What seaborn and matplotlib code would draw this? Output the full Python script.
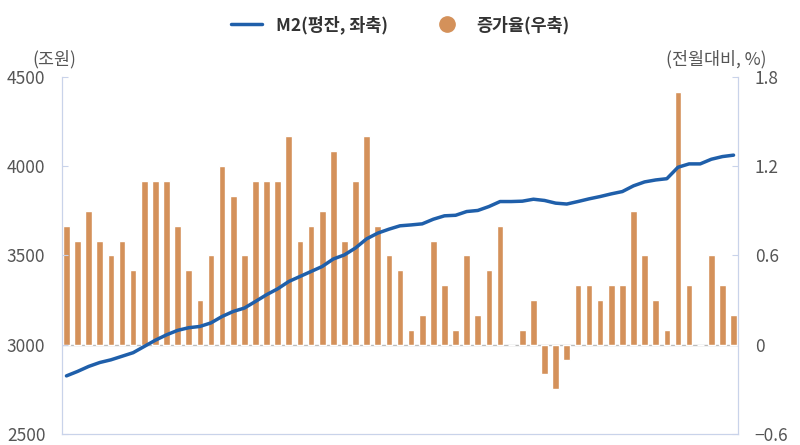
import numpy as np
import pandas as pd
import seaborn as sns
import matplotlib.pyplot as plt
from matplotlib.lines import Line2D

# M2 level (trillion won, left axis) and monthly growth rate (% MoM, right axis)
m2 = [2825, 2850, 2878, 2900, 2915, 2935, 2955, 2990, 3025, 3055,
      3080, 3095, 3102, 3122, 3158, 3186, 3205, 3242, 3280, 3313,
      3354, 3382, 3410, 3438, 3480, 3503, 3542, 3593, 3625, 3647,
      3666, 3671, 3677, 3703, 3722, 3725, 3746, 3752, 3774, 3802,
      3802, 3804, 3815, 3808, 3793, 3788, 3802, 3817, 3830, 3845,
      3858, 3890, 3912, 3923, 3930, 3994, 4013, 4013, 4039, 4054, 4062]
rate = [0.8, 0.7, 0.9, 0.7, 0.6, 0.7, 0.5, 1.1, 1.1, 1.1,
        0.8, 0.5, 0.3, 0.6, 1.2, 1.0, 0.6, 1.1, 1.1, 1.1,
        1.4, 0.7, 0.8, 0.9, 1.3, 0.7, 1.1, 1.4, 0.8, 0.6,
        0.5, 0.1, 0.2, 0.7, 0.4, 0.1, 0.6, 0.2, 0.5, 0.8,
        0.0, 0.1, 0.3, -0.2, -0.3, -0.1, 0.4, 0.4, 0.3, 0.4,
        0.4, 0.9, 0.6, 0.3, 0.1, 1.7, 0.4, 0.0, 0.6, 0.4, 0.2]
month = np.arange(len(m2))
df = pd.DataFrame({'month': month, 'm2': m2, 'rate': rate})

sns.set_style('white')
plt.rcParams['font.family'] = ['Noto Sans CJK KR', 'DejaVu Sans']

bar_color = '#D4915A'
line_color = '#1F5FAA'
spine_color = '#C9D3EA'
text_color = '#555555'

fig = plt.figure(figsize=(8, 4.45), dpi=100)
ax = fig.add_axes([0.0775, 0.025, 0.845, 0.802])
sns.barplot(data=df, x='month', y='rate', native_scale=True, color=bar_color,
            width=0.6, saturation=1, ax=ax)
ax.axhline(0, color='#BBBBBB', lw=1, zorder=0)
ax.set_ylim(-0.6, 1.8)
ax.set_yticks([-0.6, 0, 0.6, 1.2, 1.8])
ax.set_yticklabels(['−0.6', '0', '0.6', '1.2', '1.8'])
ax.set_xlim(-0.4, len(m2) - 0.6)
ax.set_xticks(np.arange(4.5, len(m2), 12))
ax.set_xticklabels([])
ax.set_xlabel('')
ax.set_ylabel('')

ax2 = ax.twinx()
sns.lineplot(data=df, x='month', y='m2', color=line_color, lw=2.5, ax=ax2)
ax2.set_ylim(2500, 4500)
ax2.set_yticks([2500, 3000, 3500, 4000, 4500])
ax2.set_ylabel('')
# swap sides: bars' scale on the right, M2 on the left
ax.yaxis.tick_right()
ax.yaxis.set_label_position('right')
ax2.yaxis.tick_left()

for a in (ax, ax2):
    for s in a.spines.values():
        s.set_color(spine_color)
    a.spines['top'].set_visible(False)
    a.tick_params(colors=spine_color, labelcolor=text_color, labelsize=12.5, length=4)
ax.tick_params(axis='x', length=5, direction='in')
ax.tick_params(axis='y', direction='in', pad=12)
ax2.tick_params(axis='y', direction='in', pad=12)

fig.text(0.068, 0.855, '(조원)', color=text_color, fontsize=12.5, ha='center')
fig.text(0.958, 0.855, '(전월대비, %)', color=text_color, fontsize=12.5, ha='right')

handles = [Line2D([], [], color=line_color, lw=2.5),
           Line2D([], [], marker='o', color=bar_color, lw=0, markersize=11)]
fig.legend(handles, ['M2(평잔, 좌축)', '증가율(우축)'], loc='upper center',
           bbox_to_anchor=(0.5, 1.0), ncol=2, frameon=False,
           handlelength=1.8, columnspacing=2.5, prop={'weight': 'bold', 'size': 12.5})
for t in fig.legends[0].get_texts():
    t.set_color('#333333')

fig.savefig('out.png', dpi=100)
